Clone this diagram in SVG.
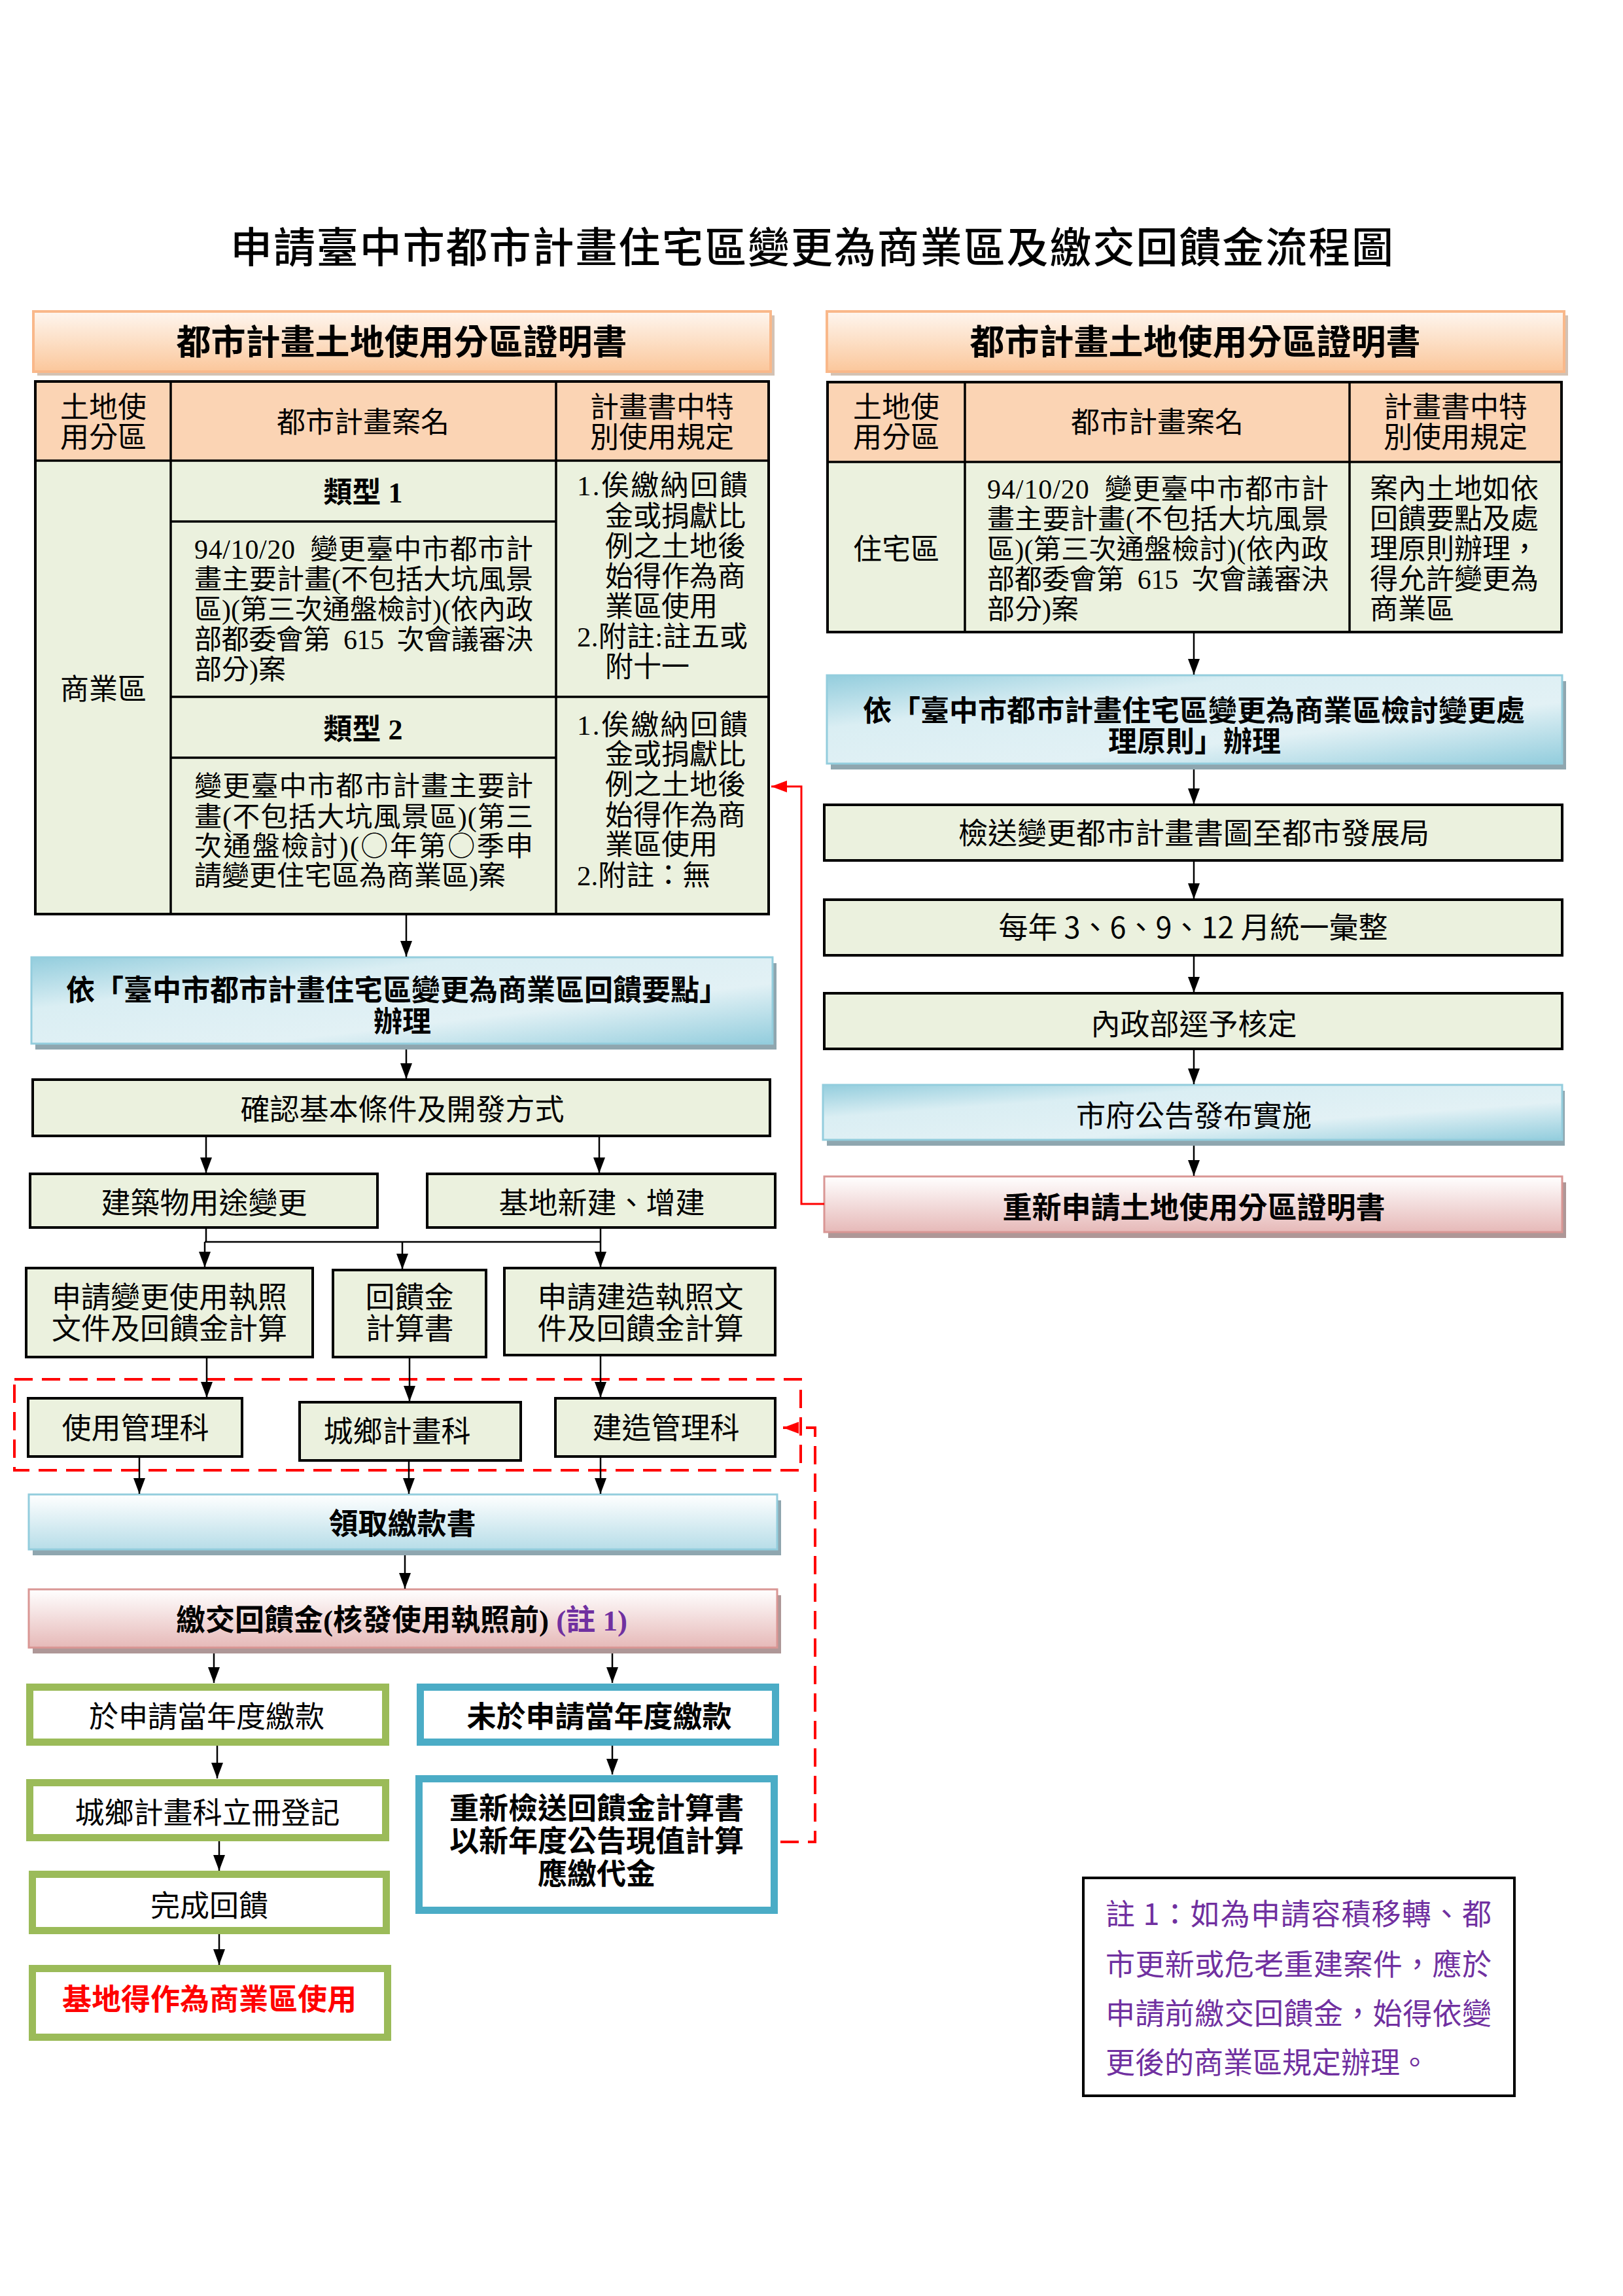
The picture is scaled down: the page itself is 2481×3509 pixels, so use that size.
<svg xmlns="http://www.w3.org/2000/svg" width="2481" height="3509" viewBox="0 0 2481 3509">
<defs>
<style>
text{font-family:"Noto Sans CJK TC","Noto Sans",sans-serif;fill:#000}
.m{font-family:"Liberation Serif","Noto Sans CJK TC",serif}
.k{font-family:"Noto Sans CJK TC",sans-serif}
.c{text-anchor:middle}
.f45{font-size:45px}
.f44{font-size:44px}
.f43{font-size:43px}
.f42{font-size:42px}
.b{font-weight:700}
.plain{fill:#EBF1DE;stroke:#000;stroke-width:4}
.tbl{stroke:#000;stroke-width:4;fill:none}
.tl{stroke:#000;stroke-width:3.5}
.blue{fill:url(#gBlue);stroke:#93CDDD;stroke-width:3}
.blueV{fill:url(#gBlueV);stroke:#93CDDD;stroke-width:3}
.pink{fill:url(#gPink);stroke:#D99694;stroke-width:3}
.orange{fill:url(#gOrange);stroke:#F9B88A;stroke-width:4}
.shB{fill:#8FA6AF}
.shP{fill:#AE9797}
.shO{fill:#D3C2B4}
.green{fill:#fff;stroke:#9BBB59;stroke-width:11}
.aqua{fill:#fff;stroke:#4BACC6;stroke-width:11}
.ar{stroke:#000;stroke-width:2.5;fill:none;marker-end:url(#ah)}
.ln{stroke:#000;stroke-width:2.5;fill:none}
.purple{fill:#7030A0}
</style>
<linearGradient id="gOrange" x1="0" y1="0" x2="0" y2="1">
<stop offset="0" stop-color="#FEF6EF"/>
<stop offset="1" stop-color="#FBC79B"/>
</linearGradient>
<linearGradient id="gBlue" x1="0" y1="0" x2="1" y2="1">
<stop offset="0" stop-color="#93CDDD"/>
<stop offset="0.3" stop-color="#DAEEF3"/>
<stop offset="0.65" stop-color="#E2F1F5"/>
<stop offset="1" stop-color="#93CDDD"/>
</linearGradient>
<linearGradient id="gBlueV" x1="0" y1="0" x2="0" y2="1">
<stop offset="0" stop-color="#FFFFFF"/>
<stop offset="1" stop-color="#B7DDE8"/>
</linearGradient>
<linearGradient id="gPink" x1="0" y1="0" x2="0" y2="1">
<stop offset="0" stop-color="#FFFFFF"/>
<stop offset="1" stop-color="#E6B9B8"/>
</linearGradient>
<marker id="ah" viewBox="0 0 24 18" refX="24" refY="9" markerWidth="24" markerHeight="18" markerUnits="userSpaceOnUse" orient="auto">
<path d="M0,0 L24,9 L0,18 z" fill="#000"/>
</marker>
<marker id="ahr" viewBox="0 0 24 18" refX="24" refY="9" markerWidth="24" markerHeight="18" markerUnits="userSpaceOnUse" orient="auto">
<path d="M0,0 L24,9 L0,18 z" fill="#FF0000"/>
</marker>
</defs>
<rect width="2481" height="3509" fill="#fff"/>

<g id="title">
<text x="352" y="401" style="font-size:64px;font-weight:500" textLength="1778" lengthAdjust="spacing">申請臺中市都市計畫住宅區變更為商業區及繳交回饋金流程圖</text>
</g>

<g id="header-left">
<rect class="shO" x="57" y="482" width="1127" height="92"/>
<rect class="orange" x="51" y="476" width="1127" height="92"/>
<text class="c b" x="614" y="542" style="font-size:53px">都市計畫土地使用分區證明書</text>
</g>

<g id="header-right">
<rect class="shO" x="1270" y="482" width="1127" height="92"/>
<rect class="orange" x="1264" y="476" width="1127" height="92"/>
<text class="c b" x="1827" y="542" style="font-size:53px">都市計畫土地使用分區證明書</text>
</g>

<g id="table-left">
<rect x="54" y="583" width="1121" height="814" fill="#EBF1DE"/>
<rect x="54" y="583" width="1121" height="121" fill="#FBD4B4"/>
<line class="tl" x1="54" y1="704" x2="1175" y2="704"/>
<line class="tl" x1="261" y1="583" x2="261" y2="1397"/>
<line class="tl" x1="850" y1="583" x2="850" y2="1397"/>
<line class="tl" x1="261" y1="797" x2="850" y2="797"/>
<line class="tl" x1="261" y1="1065" x2="1175" y2="1065"/>
<line class="tl" x1="261" y1="1158" x2="850" y2="1158"/>
<rect class="tbl" x="54" y="583" width="1121" height="814"/>
<text class="c f44" x="158" y="638"><tspan x="158" y="638">土地使</tspan><tspan x="158" y="684">用分區</tspan></text>
<text class="c f44" x="555" y="661">都市計畫案名</text>
<text class="c f44" x="1012" y="638"><tspan x="1012" y="638">計畫書中特</tspan><tspan x="1012" y="684">別使用規定</tspan></text>
<text class="c f44" x="158" y="1069">商業區</text>
<text class="c f44 b m" x="555" y="768">類型 1</text>
<text class="f42 m" x="297" y="854" xml:space="preserve"><tspan x="297" y="854" textLength="518" lengthAdjust="spacing">94/10/20  變更臺中市都市計</tspan><tspan x="297" y="900" textLength="518" lengthAdjust="spacing">畫主要計畫(不包括大坑風景</tspan><tspan x="297" y="946" textLength="518" lengthAdjust="spacing">區)(第三次通盤檢討)(依內政</tspan><tspan x="297" y="992" textLength="518" lengthAdjust="spacing">部都委會第  615  次會議審決</tspan><tspan x="297" y="1038">部分)案</tspan></text>
<text class="f43 m" x="882" y="757"><tspan x="882" y="757" textLength="261" lengthAdjust="spacing">1.俟繳納回饋</tspan><tspan x="925" y="804">金或捐獻比</tspan><tspan x="925" y="850">例之土地後</tspan><tspan x="925" y="896">始得作為商</tspan><tspan x="925" y="942">業區使用</tspan><tspan x="882" y="988" textLength="261" lengthAdjust="spacing">2.附註:註五或</tspan><tspan x="925" y="1034">附十一</tspan></text>
<text class="c f44 b m" x="555" y="1130">類型 2</text>
<text class="f42 m" x="297" y="1216"><tspan x="297" y="1216" textLength="518" lengthAdjust="spacing">變更臺中市都市計畫主要計</tspan><tspan x="297" y="1263" textLength="518" lengthAdjust="spacing">畫(不包括大坑風景區)(第三</tspan><tspan x="297" y="1308" textLength="518" lengthAdjust="spacing">次通盤檢討)(<tspan class="k">○</tspan>年第<tspan class="k">○</tspan>季申</tspan><tspan x="297" y="1353">請變更住宅區為商業區)案</tspan></text>
<text class="f43 m" x="882" y="1123"><tspan x="882" y="1123" textLength="261" lengthAdjust="spacing">1.俟繳納回饋</tspan><tspan x="925" y="1168">金或捐獻比</tspan><tspan x="925" y="1214">例之土地後</tspan><tspan x="925" y="1261">始得作為商</tspan><tspan x="925" y="1306">業區使用</tspan><tspan x="882" y="1353">2.附註：無</tspan></text>
</g>

<g id="table-right">
<rect x="1265" y="584" width="1122" height="382" fill="#EBF1DE"/>
<rect x="1265" y="584" width="1122" height="122" fill="#FBD4B4"/>
<line class="tl" x1="1265" y1="706" x2="2387" y2="706"/>
<line class="tl" x1="1475" y1="584" x2="1475" y2="966"/>
<line class="tl" x1="2063" y1="584" x2="2063" y2="966"/>
<rect class="tbl" x="1265" y="584" width="1122" height="382"/>
<text class="c f44" x="1370" y="638"><tspan x="1370" y="638">土地使</tspan><tspan x="1370" y="684">用分區</tspan></text>
<text class="c f44" x="1769" y="661">都市計畫案名</text>
<text class="c f44" x="2225" y="638"><tspan x="2225" y="638">計畫書中特</tspan><tspan x="2225" y="684">別使用規定</tspan></text>
<text class="c f44" x="1370" y="855">住宅區</text>
<text class="f42 m" x="1509" y="762" xml:space="preserve"><tspan x="1509" y="762" textLength="522" lengthAdjust="spacing">94/10/20  變更臺中市都市計</tspan><tspan x="1509" y="808" textLength="522" lengthAdjust="spacing">畫主要計畫(不包括大坑風景</tspan><tspan x="1509" y="854" textLength="522" lengthAdjust="spacing">區)(第三次通盤檢討)(依內政</tspan><tspan x="1509" y="900" textLength="522" lengthAdjust="spacing">部都委會第  615  次會議審決</tspan><tspan x="1509" y="946">部分)案</tspan></text>
<text class="f43" x="2094" y="762"><tspan x="2094" y="762">案內土地如依</tspan><tspan x="2094" y="808">回饋要點及處</tspan><tspan x="2094" y="854">理原則辦理，</tspan><tspan x="2094" y="900">得允許變更為</tspan><tspan x="2094" y="946">商業區</tspan></text>
</g>

<g id="node-rule-review">
<rect class="shB" x="1270" y="1041" width="1124" height="135"/>
<rect class="blue" x="1264" y="1032" width="1124" height="135"/>
<text class="c f44 b" x="1825" y="1102"><tspan x="1825" y="1102">依「臺中市都市計畫住宅區變更為商業區檢討變更處</tspan><tspan x="1826" y="1149">理原則」辦理</tspan></text>
</g>
<g id="node-send">
<rect class="plain" x="1260" y="1230" width="1128" height="85"/>
<text class="c f45" x="1825" y="1290">檢送變更都市計畫書圖至都市發展局</text>
</g>
<g id="node-quarterly">
<rect class="plain" x="1260" y="1375" width="1128" height="85"/>
<text class="c f45" x="1824" y="1434">每年 3、6、9、12 月統一彙整</text>
</g>
<g id="node-moi">
<rect class="plain" x="1260" y="1518" width="1128" height="85"/>
<text class="c f45" x="1825" y="1582">內政部逕予核定</text>
</g>
<g id="node-announce">
<rect class="shB" x="1264" y="1667" width="1128" height="84"/>
<rect class="blue" x="1258" y="1658" width="1130" height="84"/>
<text class="c f45" x="1825" y="1722">市府公告發布實施</text>
</g>
<g id="node-reapply">
<rect class="shP" x="1266" y="1807" width="1128" height="85"/>
<rect class="pink" x="1260" y="1798" width="1128" height="85"/>
<text class="c f45 b" x="1825" y="1862">重新申請土地使用分區證明書</text>
</g>

<g id="node-feedback-rule">
<rect class="shB" x="54" y="1472" width="1133" height="132"/>
<rect class="blue" x="48" y="1463" width="1133" height="132"/>
<text class="c f44 b" x="607" y="1529"><tspan x="607" y="1529">依「臺中市都市計畫住宅區變更為商業區回饋要點」</tspan><tspan x="615" y="1577">辦理</tspan></text>
</g>
<g id="node-confirm">
<rect class="plain" x="50" y="1650" width="1127" height="86"/>
<text class="c f45" x="615" y="1712">確認基本條件及開發方式</text>
</g>
<g id="node-use-change">
<rect class="plain" x="46" y="1794" width="531" height="82"/>
<text class="c f45" x="312" y="1855">建築物用途變更</text>
</g>
<g id="node-new-build">
<rect class="plain" x="653" y="1794" width="532" height="82"/>
<text class="c f45" x="920" y="1855">基地新建、增建</text>
</g>
<g id="node-apply-use">
<rect class="plain" x="40" y="1938" width="438" height="136"/>
<text class="c f45" x="259" y="1999"><tspan x="259" y="1999">申請變更使用執照</tspan><tspan x="259" y="2047">文件及回饋金計算</tspan></text>
</g>
<g id="node-calc">
<rect class="plain" x="509" y="1941" width="234" height="133"/>
<text class="c f45" x="626" y="1999"><tspan x="626" y="1999">回饋金</tspan><tspan x="626" y="2047">計算書</tspan></text>
</g>
<g id="node-apply-build">
<rect class="plain" x="771" y="1938" width="414" height="133"/>
<text class="c f45" x="979" y="1999"><tspan x="979" y="1999">申請建造執照文</tspan><tspan x="979" y="2047">件及回饋金計算</tspan></text>
</g>
<g id="group-offices">
<rect x="22" y="2108" width="1202" height="139" fill="none" stroke="#FF0000" stroke-width="4" stroke-dasharray="28 14"/>
</g>
<g id="node-use-mgmt">
<rect class="plain" x="43" y="2137" width="327" height="89"/>
<text class="c f45" x="207" y="2199">使用管理科</text>
</g>
<g id="node-urban-rural">
<rect class="plain" x="458" y="2143" width="338" height="89"/>
<text class="c f45" x="607" y="2204">城鄉計畫科</text>
</g>
<g id="node-build-mgmt">
<rect class="plain" x="849" y="2137" width="336" height="89"/>
<text class="c f45" x="1018" y="2199">建造管理科</text>
</g>
<g id="node-get-bill">
<rect class="shB" x="50" y="2293" width="1144" height="84"/>
<rect class="blueV" x="44" y="2284" width="1144" height="84"/>
<text class="c f45 b" x="615" y="2345">領取繳款書</text>
</g>
<g id="node-pay">
<rect class="shP" x="50" y="2438" width="1144" height="89"/>
<rect class="pink" x="44" y="2429" width="1144" height="89"/>
<text class="c f45 b m" x="614" y="2492">繳交回饋金(核發使用執照前) <tspan class="purple">(註 1)</tspan></text>
</g>
<g id="node-pay-same-year">
<rect class="green" x="45.5" y="2578.5" width="544" height="84"/>
<text class="c f45" x="316" y="2640">於申請當年度繳款</text>
</g>
<g id="node-not-same-year">
<rect class="aqua" x="642.5" y="2578.5" width="543" height="84"/>
<text class="c f45 b" x="916" y="2640">未於申請當年度繳款</text>
</g>
<g id="node-register">
<rect class="green" x="45.5" y="2724.5" width="544" height="84"/>
<text class="c f45" x="317" y="2787">城鄉計畫科立冊登記</text>
</g>
<g id="node-resubmit">
<rect class="aqua" x="640.5" y="2718.5" width="543" height="201"/>
<text class="c f45 b" x="912" y="2780"><tspan x="912" y="2780">重新檢送回饋金計算書</tspan><tspan x="912" y="2830">以新年度公告現值計算</tspan><tspan x="912" y="2880">應繳代金</tspan></text>
</g>
<g id="node-complete">
<rect class="green" x="49.5" y="2864.5" width="541" height="86"/>
<text class="c f45" x="320" y="2929">完成回饋</text>
</g>
<g id="node-result">
<rect class="green" x="49.5" y="3008.5" width="543" height="105"/>
<text class="c f45 b" x="320" y="3072" style="fill:#FF0000">基地得作為商業區使用</text>
</g>
<g id="note">
<rect x="1656" y="2870" width="659" height="333" fill="#fff" stroke="#000" stroke-width="4"/>
<text class="f45 purple" x="1690" y="2942"><tspan x="1690" y="2942" textLength="590" lengthAdjust="spacing">註 1：如為申請容積移轉、都</tspan><tspan x="1690" y="3019" textLength="590" lengthAdjust="spacing">市更新或危老重建案件，應於</tspan><tspan x="1690" y="3094" textLength="590" lengthAdjust="spacing">申請前繳交回饋金，始得依變</tspan><tspan x="1690" y="3169">更後的商業區規定辦理。</tspan></text>
</g>

<g id="connectors">
<line class="ar" x1="1825" y1="966" x2="1825" y2="1031"/>
<line class="ar" x1="1825" y1="1176" x2="1825" y2="1229"/>
<line class="ar" x1="1825" y1="1315" x2="1825" y2="1374"/>
<line class="ar" x1="1825" y1="1460" x2="1825" y2="1517"/>
<line class="ar" x1="1825" y1="1603" x2="1825" y2="1657"/>
<line class="ar" x1="1825" y1="1751" x2="1825" y2="1797"/>
<path d="M1260,1840 H1225 V1202 H1179" fill="none" stroke="#FF0000" stroke-width="3" marker-end="url(#ahr)"/>
<line class="ar" x1="621" y1="1397" x2="621" y2="1462"/>
<line class="ar" x1="621" y1="1604" x2="621" y2="1649"/>
<line class="ar" x1="315" y1="1736" x2="315" y2="1793"/>
<line class="ar" x1="916" y1="1736" x2="916" y2="1793"/>
<path class="ln" d="M315,1876 V1898 M918,1876 V1898 M313,1898 H918"/>
<line class="ar" x1="313" y1="1898" x2="313" y2="1937"/>
<line class="ar" x1="615" y1="1898" x2="615" y2="1940"/>
<line class="ar" x1="918" y1="1898" x2="918" y2="1937"/>
<line class="ar" x1="316" y1="2074" x2="316" y2="2136"/>
<line class="ar" x1="626" y1="2074" x2="626" y2="2142"/>
<line class="ar" x1="918" y1="2071" x2="918" y2="2136"/>
<line class="ar" x1="213" y1="2226" x2="213" y2="2283"/>
<line class="ar" x1="625" y1="2232" x2="625" y2="2283"/>
<line class="ar" x1="918" y1="2226" x2="918" y2="2283"/>
<line class="ar" x1="619" y1="2377" x2="619" y2="2428"/>
<line class="ar" x1="327" y1="2527" x2="327" y2="2572"/>
<line class="ar" x1="936" y1="2527" x2="936" y2="2572"/>
<line class="ar" x1="332" y1="2668" x2="332" y2="2718"/>
<line class="ar" x1="936" y1="2668" x2="936" y2="2712"/>
<line class="ar" x1="335" y1="2814" x2="335" y2="2859"/>
<line class="ar" x1="335" y1="2956" x2="335" y2="3003"/>
<path d="M1193,2815 H1246 V2182 H1197" fill="none" stroke="#FF0000" stroke-width="4" stroke-dasharray="28 14" marker-end="url(#ahr)"/>
</g>
</svg>
